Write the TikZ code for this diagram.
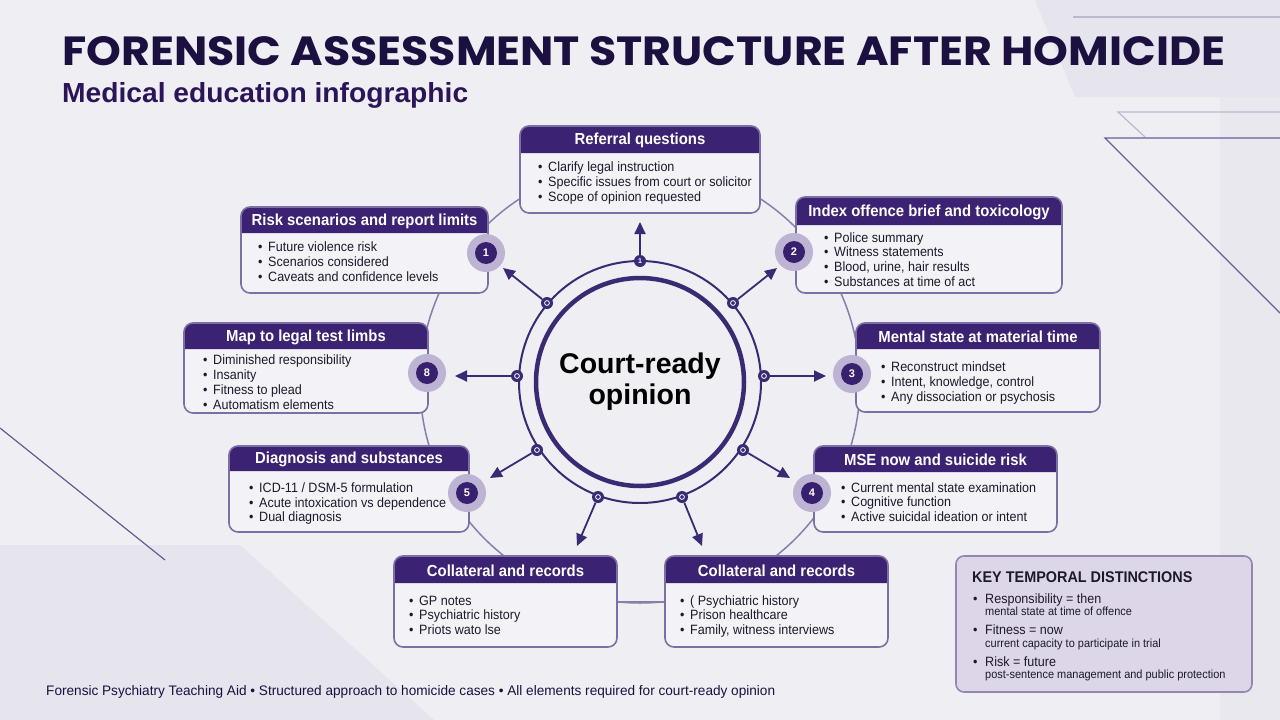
\documentclass[tikz,border=0pt]{standalone}
\usepackage{fontspec}
\setmainfont{Liberation Sans}[FakeStretch=0.93]
\newfontfamily\plainfont{Liberation Sans}
\newfontfamily\titlefont{Poppins}
\usetikzlibrary{arrows.meta}
\definecolor{bg}{HTML}{EFEEF3}
\definecolor{bgdark}{HTML}{E6E4EC}
\definecolor{bgline}{HTML}{BDB7CF}
\definecolor{bgline2}{HTML}{6A5D9A}
\definecolor{hdr}{HTML}{3B2272}
\definecolor{boxfill}{HTML}{F3F2F6}
\definecolor{boxline}{HTML}{7C6FA3}
\definecolor{badgeout}{HTML}{BDB3D3}
\definecolor{badgein}{HTML}{37206E}
\definecolor{ring}{HTML}{3A2A74}
\definecolor{titlec}{HTML}{1B1040}
\definecolor{subc}{HTML}{2C1458}
\definecolor{keyfill}{HTML}{DDD6E8}
\definecolor{keyline}{HTML}{9486B4}
\definecolor{bigring}{HTML}{8A7DAE}
\definecolor{bodyc}{HTML}{1C1A2A}
\tikzset{
  hdrtext/.style={text=white, font=\bfseries\fontsize{16}{18}\selectfont, inner sep=0pt},
  bultext/.style={anchor=base west, inner sep=0pt, text=bodyc, font=\fontsize{13.5}{15}\selectfont},
  dotn/.style={circle, fill=ring, minimum size=12pt, inner sep=0pt},
  arr/.style={draw=ring, line width=1.8pt, -{Triangle[length=12pt,width=11pt]}},
  badgetext/.style={circle, fill=badgein, minimum size=22pt, inner sep=0pt, text=white, font=\plainfont\bfseries\fontsize{11}{11}\selectfont},
  keyhead/.style={anchor=base west, inner sep=0pt, text=bodyc, font=\bfseries\fontsize{15.5}{17}\selectfont},
  keymain/.style={anchor=base west, inner sep=0pt, text=bodyc, font=\fontsize{13.5}{15}\selectfont},
  keysub/.style={anchor=base west, inner sep=0pt, text=bodyc, font=\fontsize{11.8}{13}\selectfont}
}
\newcommand\panel[7]{%
  \fill[boxfill, rounded corners=9pt] (#2,#3) rectangle (#4,#5);
  \fill[hdr] (#2,#6) [rounded corners=9pt] -- (#2,#3) -- (#4,#3) [sharp corners] -- (#4,#6) -- cycle;
  \draw[boxline, line width=1.6pt, rounded corners=9pt] (#2,#3) rectangle (#4,#5);
  \node[hdrtext] (#1) at ({(#2+#4)/2},{(#3+#6)/2+1}) {#7};
}
\newcommand\bul[4]{\node[bultext] (#1) at (#2,#3) {\makebox[10pt][l]{\textbullet}#4};}
\newcommand\badge[4]{%
  \fill[badgeout] (#2,#3) circle (19pt);
  \node[badgetext] (#1) at (#2,#3) {#4};
}
\begin{document}
\begin{tikzpicture}[x=1pt,y=-1pt]
\useasboundingbox (0,0) rectangle (1280,720);
% background
\fill[bg] (0,0) rectangle (1280,720);
\fill[bgdark] (1035,0) -- (1280,0) -- (1280,97) -- (1075,97) -- cycle;
\fill[bgdark!60!bg] (1220,97) rectangle (1280,720);
\fill[bgdark] (0,545) -- (240,545) -- (434,720) -- (0,720) -- cycle;
\draw[bgline, line width=1.2pt] (1073,17) -- (1280,17);
\draw[bgline, line width=1.2pt] (1145,137) -- (1118,112) -- (1280,112);
\draw[bgline2, line width=1.2pt] (1280,313) -- (1105,138) -- (1280,138);
\draw[bgline2, line width=1.2pt] (0,428) -- (165,560);
% titles
\node[anchor=base west, inner sep=0pt, text=titlec] (title) at (62,65)
  {\resizebox{1163pt}{29pt}{\titlefont\bfseries FORENSIC ASSESSMENT STRUCTURE AFTER HOMICIDE}};
\node[anchor=base west, inner sep=0pt, text=subc] (subtitle) at (62,102)
  {\resizebox{406pt}{20pt}{\plainfont\bfseries Medical education infographic}};
% big ring
\draw[bigring, line width=1.5pt] (640,383) circle (220pt);
% panels
\panel{ref}{520}{126}{760}{213}{153}{Referral questions}
\bul{ref1}{538}{171}{Clarify legal instruction}
\bul{ref2}{538}{186}{Specific issues from court or solicitor}
\bul{ref3}{538}{201}{Scope of opinion requested}

\panel{risk}{241}{207}{488}{293}{233}{Risk scenarios and report limits}
\bul{risk1}{258}{251}{Future violence risk}
\bul{risk2}{258}{266}{Scenarios considered}
\bul{risk3}{258}{281}{Caveats and confidence levels}

\panel{idx}{796}{197}{1062}{293}{225}{Index offence brief and toxicology}
\bul{idx1}{824}{242}{Police summary}
\bul{idx2}{824}{256}{Witness statements}
\bul{idx3}{824}{271}{Blood, urine, hair results}
\bul{idx4}{824}{286}{Substances at time of act}

\panel{map}{184}{323}{428}{413}{349}{Map to legal test limbs}
\bul{map1}{203}{364}{Diminished responsibility}
\bul{map2}{203}{379}{Insanity}
\bul{map3}{203}{394}{Fitness to plead}
\bul{map4}{203}{409}{Automatism elements}

\panel{ment}{856}{323}{1100}{412}{349}{Mental state at material time}
\bul{ment1}{881}{371}{Reconstruct mindset}
\bul{ment2}{881}{386}{Intent, knowledge, control}
\bul{ment3}{881}{401}{Any dissociation or psychosis}

\panel{diag}{229}{446}{469}{532}{471}{Diagnosis and substances}
\bul{diag1}{249}{492}{ICD-11 / DSM-5 formulation}
\bul{diag2}{249}{507}{Acute intoxication vs dependence}
\bul{diag3}{249}{521}{Dual diagnosis}

\panel{mse}{814}{446}{1057}{532}{472}{MSE now and suicide risk}
\bul{mse1}{841}{492}{Current mental state examination}
\bul{mse2}{841}{506}{Cognitive function}
\bul{mse3}{841}{521}{Active suicidal ideation or intent}

\draw[bigring, line width=1.5pt] (617,602) -- (665,602);
\panel{colL}{394}{556}{617}{647}{583}{Collateral and records}
\bul{colL1}{409}{605}{GP notes}
\bul{colL2}{409}{619}{Psychiatric history}
\bul{colL3}{409}{634}{Priots wato lse}

\panel{colR}{665}{556}{888}{647}{583}{Collateral and records}
\bul{colR1}{680}{605}{( Psychiatric history}
\bul{colR2}{680}{619}{Prison healthcare}
\bul{colR3}{680}{634}{Family, witness interviews}

% badges
\badge{b1}{486}{253}{1}
\badge{b2}{794}{252}{2}
\badge{b3}{852}{374}{3}
\badge{b4}{812}{493}{4}
\badge{b5}{467}{493}{5}
\badge{b8}{427}{373}{8}

% centre rings
\draw[ring, line width=2pt] (640,382) circle (121pt);
\draw[ring, line width=4.5pt] (640,382) circle (104pt);
\node[font=\plainfont\bfseries\fontsize{28.5}{31}\selectfont, align=center, text=black, inner sep=0pt] (centre) at (640,382) {Court-ready\\opinion};

% dots and arrows
\node[dotn, text=white, font=\plainfont\bfseries\fontsize{7}{7}\selectfont] (d1) at (640,261) {1};
\node[dotn] (d2) at (547,303) {};
\node[dotn] (d3) at (733,303) {};
\node[dotn] (d4) at (517,376) {};
\node[dotn] (d5) at (764,376) {};
\node[dotn] (d6) at (537,450) {};
\node[dotn] (d7) at (743,450) {};
\node[dotn] (d8) at (598,497) {};
\node[dotn] (d9) at (682,497) {};
\foreach \d in {d2,d3,d4,d5,d6,d7,d8,d9}{\draw[white, line width=0.8pt] (\d) circle (2.4pt);}
\coordinate (t1) at (640,222);
\coordinate (t2) at (503,268);
\coordinate (t3) at (777,268);
\coordinate (t4) at (455,376);
\coordinate (t5) at (826,376);
\coordinate (t6) at (490,478);
\coordinate (t7) at (790,478);
\coordinate (t8) at (577,546);
\coordinate (t9) at (702,546);
\foreach \i in {1,...,9}{\draw[arr] (d\i) -- (t\i);}

% key box
\draw[keyline, fill=keyfill, line width=1.6pt, rounded corners=8pt] (956,556) rectangle (1252,692);
\node[keyhead] (khead) at (972,582) {KEY TEMPORAL DISTINCTIONS};
\node[keymain] (kb1) at (973,603) {\textbullet};
\node[keymain] (k1) at (985,603) {Responsibility = then};
\node[keysub] (k1s) at (985,615) {mental state at time of offence};
\node[keymain] (kb2) at (973,634) {\textbullet};
\node[keymain] (k2) at (985,634) {Fitness = now};
\node[keysub] (k2s) at (985,647) {current capacity to participate in trial};
\node[keymain] (kb3) at (973,666) {\textbullet};
\node[keymain] (k3) at (985,666) {Risk = future};
\node[keysub] (k3s) at (985,678) {post-sentence management and public protection};

% footer
\node[anchor=base west, inner sep=0pt, text=titlec] (footer) at (46,695)
  {\resizebox{729pt}{10pt}{\plainfont Forensic Psychiatry Teaching Aid \textbullet{} Structured approach to homicide cases \textbullet{} All elements required for court-ready opinion}};
\end{tikzpicture}
\end{document}
